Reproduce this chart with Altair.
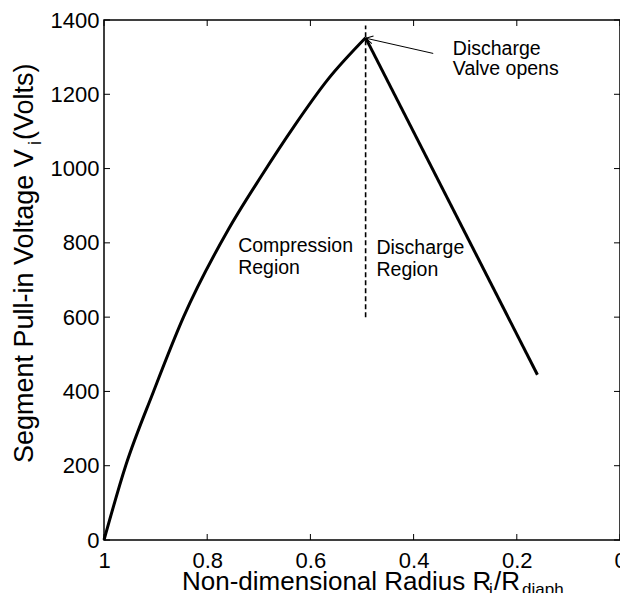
import altair as alt
import pandas as pd

# ---- data ----
comp_x = [1.0, 0.958, 0.904, 0.846, 0.759, 0.695, 0.631, 0.566, 0.493]
comp_y = [0, 200, 400, 600, 836, 980, 1115, 1240, 1352]
dis_x = [0.493, 0.16]
dis_y = [1352, 445]

x_ticks = [1, 0.8, 0.6, 0.4, 0.2, 0]
y_ticks = [0, 200, 400, 600, 800, 1000, 1200, 1400]

valve_x = [0.493]
valve_y0 = [600]
valve_y1 = [1385]

arrow_x = [0.362]
arrow_y = [1310]
arrow_x2 = [0.4927]
arrow_y2 = [1351]

region_text = ["Compression\nRegion", "Discharge\nRegion"]
region_x = [0.74, 0.472]
region_y = [775, 771]

valve_text = ["Discharge\nValve opens"]
valve_tx = [0.324]
valve_ty = [1305]

W, H = 516, 520
FONT = "Liberation Sans"

comp = pd.DataFrame({"x": comp_x, "y": comp_y})
comp["o"] = range(len(comp))
dis = pd.DataFrame({"x": dis_x, "y": dis_y})
dis["o"] = range(len(dis))

xs = alt.Scale(domain=[0, 1], reverse=True, nice=False, zero=False)
ys = alt.Scale(domain=[0, 1400], nice=False, zero=False)

x_axis = alt.Axis(values=x_ticks, format=".1~f", title=None, grid=False, ticks=False,
                  domain=False, labelFontSize=22, labelFont=FONT, labelColor="black",
                  labelPadding=10, labelFlush=False, labelOverlap=False, labelBound=False)
y_axis = alt.Axis(values=y_ticks, format="d", title=None, grid=False, ticks=False,
                  domain=False, labelFontSize=22, labelFont=FONT, labelColor="black",
                  labelPadding=5, labelFlush=False, labelOverlap=False, labelBound=False)

line1 = alt.Chart(comp).mark_line(color="black", strokeWidth=3, interpolate="monotone").encode(
    x=alt.X("x:Q", scale=xs, axis=x_axis),
    y=alt.Y("y:Q", scale=ys, axis=y_axis),
    order="o:Q",
)
line2 = alt.Chart(dis).mark_line(color="black", strokeWidth=3).encode(
    x=alt.X("x:Q", scale=xs, axis=x_axis),
    y=alt.Y("y:Q", scale=ys, axis=y_axis),
    order="o:Q",
)

vline = alt.Chart(pd.DataFrame({"x": valve_x, "y": valve_y0, "y2": valve_y1})).mark_rule(
    color="black", strokeWidth=1.6, strokeDash=[5, 3]
).encode(x=alt.X("x:Q", scale=xs), y=alt.Y("y:Q", scale=ys), y2="y2:Q")

arrow = alt.Chart(pd.DataFrame({"x": arrow_x, "y": arrow_y, "x2": arrow_x2, "y2": arrow_y2})).mark_rule(
    color="black", strokeWidth=1
).encode(x=alt.X("x:Q", scale=xs), y=alt.Y("y:Q", scale=ys), x2="x2:Q", y2="y2:Q")

head = alt.Chart(pd.DataFrame({"x": arrow_x2, "y": arrow_y2})).mark_point(
    shape="M -1 -0.55 L 0 0 L -1 0.55", filled=False, color="black", strokeWidth=1,
    size=200, angle=192.5, opacity=1
).encode(x=alt.X("x:Q", scale=xs), y=alt.Y("y:Q", scale=ys))

regions = alt.Chart(pd.DataFrame({"t": region_text, "x": region_x, "y": region_y})).mark_text(
    align="left", baseline="alphabetic", font=FONT, fontSize=19.5, lineBreak="\n",
    lineHeight=22, color="black"
).encode(x=alt.X("x:Q", scale=xs), y=alt.Y("y:Q", scale=ys), text="t:N")

vnote = alt.Chart(pd.DataFrame({"t": valve_text, "x": valve_tx, "y": valve_ty})).mark_text(
    align="left", baseline="alphabetic", font=FONT, fontSize=19.5, lineBreak="\n",
    lineHeight=20, color="black"
).encode(x=alt.X("x:Q", scale=xs), y=alt.Y("y:Q", scale=ys), text="t:N")

# inward tick marks on all four sides
xt = pd.DataFrame({"t": x_ticks})
yt = pd.DataFrame({"t": y_ticks})
tk = dict(color="black", strokeWidth=1)
xb = alt.Chart(xt).mark_rule(**tk).encode(x=alt.X("t:Q", scale=xs), y=alt.value(H), y2=alt.value(H - 6))
xtop = alt.Chart(xt).mark_rule(**tk).encode(x=alt.X("t:Q", scale=xs), y=alt.value(0), y2=alt.value(6))
yl = alt.Chart(yt).mark_rule(**tk).encode(y=alt.Y("t:Q", scale=ys), x=alt.value(0), x2=alt.value(6))
yr = alt.Chart(yt).mark_rule(**tk).encode(y=alt.Y("t:Q", scale=ys), x=alt.value(W), x2=alt.value(W - 6))

# axis titles with subscripts
def txt(s, x, y, size, angle=0):
    return alt.Chart(pd.DataFrame({"t": [s]})).mark_text(
        align="left", baseline="alphabetic", font=FONT, fontSize=size, color="black",
        angle=angle
    ).encode(x=alt.value(x), y=alt.value(y), text="t:N")

titles = [
    txt("Non-dimensional Radius R", 78, 570, 26),
    txt("i", 385, 575, 17),
    txt("/R", 390, 570, 26),
    txt("diaph", 418, 575, 17),
    txt("Segment Pull-in Voltage V", -71, 443, 27, 270),
    txt("i", -63, 125, 18, 270),
    txt(" (Volts)", -71, 120, 27, 270),
]

chart = alt.layer(line1, line2, vline, arrow, head, regions, vnote, xb, xtop, yl, yr, *titles).properties(
    width=W, height=H,
    autosize=alt.AutoSizeParams(type="none"),
    padding={"left": 96, "top": 12, "right": 0, "bottom": 53},
    background="white",
).configure_view(stroke="black", strokeWidth=1.5)

chart.save("out.html", embed_options={"renderer": "svg", "actions": False})
